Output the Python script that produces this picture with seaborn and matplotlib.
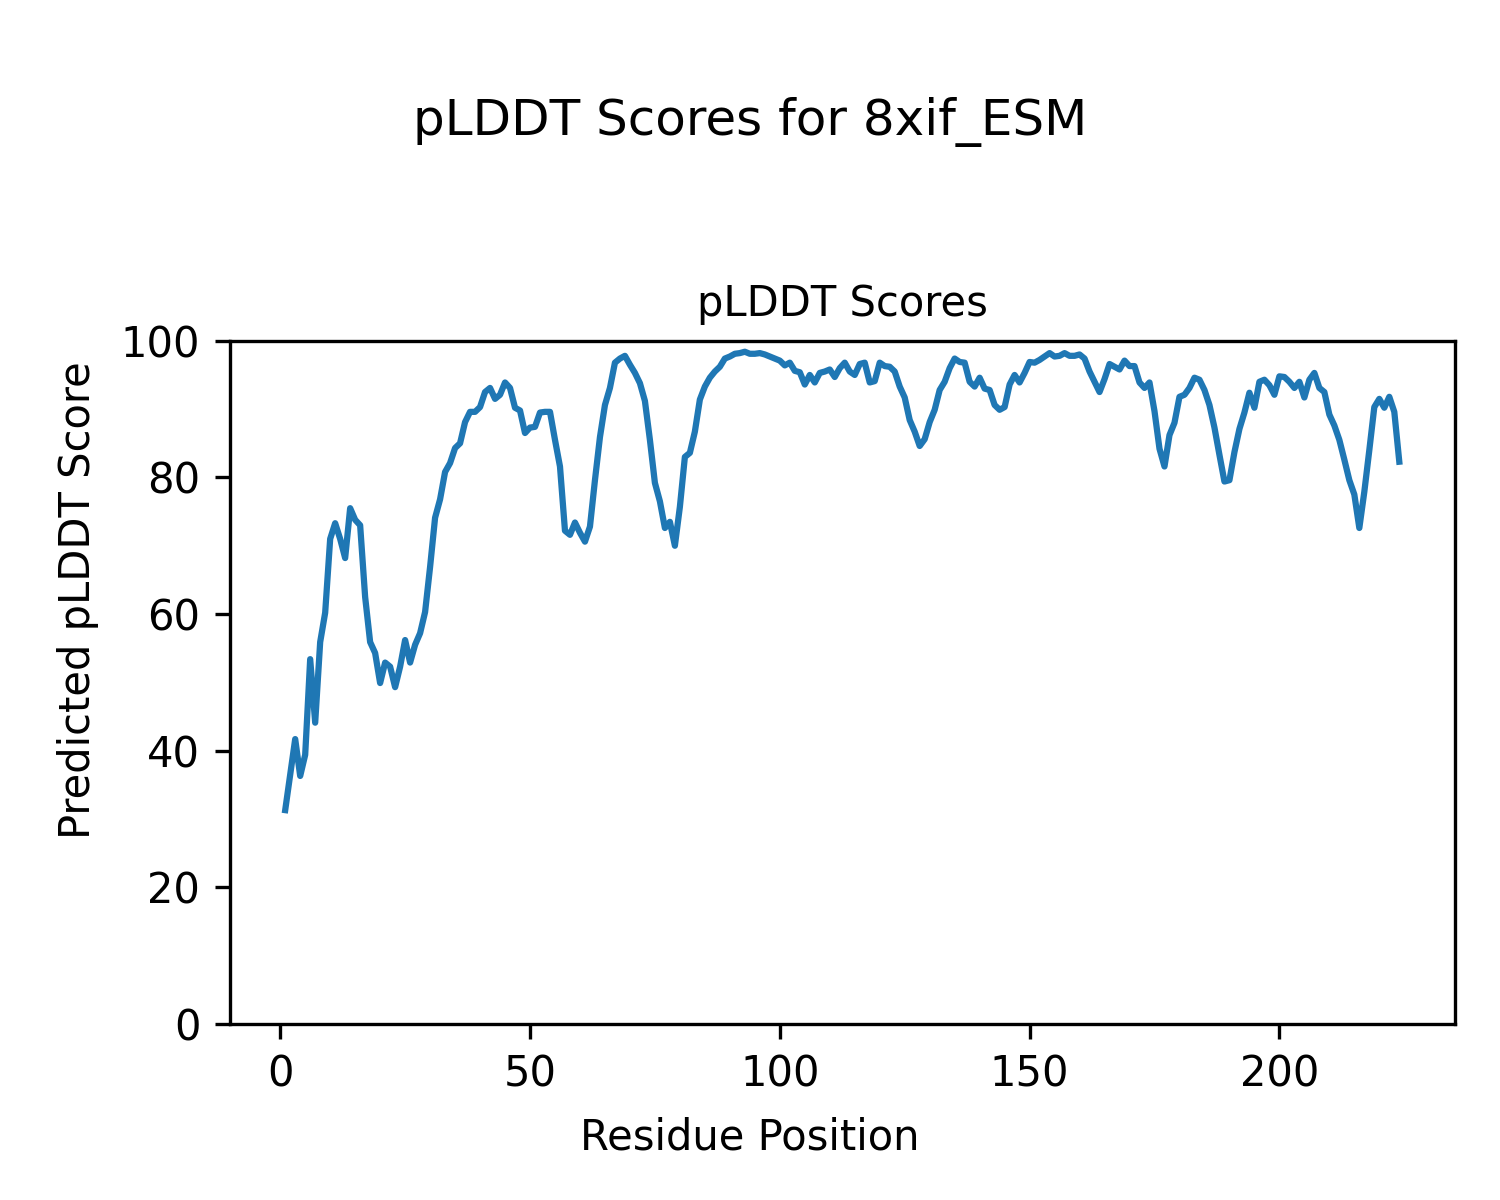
import matplotlib
matplotlib.use("Agg")
import matplotlib.pyplot as plt
import numpy as np
import pandas as pd
import seaborn as sns

# per-residue pLDDT
residues = list(range(1, 225))
plddt = [
    31.3, 36.5, 41.7, 36.3, 39.4, 53.4, 44.1, 55.9, 60.2, 71.0,
    73.3, 71.0, 68.2, 75.5, 73.8, 73.0, 62.5, 55.9, 54.3, 49.9,
    52.9, 52.3, 49.3, 52.3, 56.2, 52.9, 55.5, 57.2, 60.3, 66.9,
    74.1, 76.8, 80.8, 82.1, 84.3, 85.0, 88.1, 89.6, 89.6, 90.3,
    92.5, 93.1, 91.5, 92.1, 93.9, 93.1, 90.2, 89.8, 86.5, 87.3,
    87.4, 89.5, 89.6, 89.6, 85.5, 81.6, 72.2, 71.6, 73.4, 71.9,
    70.6, 72.8, 79.6, 85.9, 90.6, 93.1, 96.8, 97.4, 97.8, 96.5,
    95.3, 93.8, 91.2, 85.5, 79.2, 76.5, 72.6, 73.5, 70.0, 75.7,
    83.0, 83.6, 86.7, 91.4, 93.3, 94.6, 95.5, 96.2, 97.4, 97.7,
    98.1, 98.2, 98.4, 98.1, 98.1, 98.2, 98.0, 97.7, 97.4, 97.1,
    96.4, 96.8, 95.6, 95.4, 93.6, 95.0, 93.9, 95.3, 95.5, 95.8,
    94.7, 96.0, 96.8, 95.5, 95.0, 96.6, 96.8, 93.9, 94.1, 96.8,
    96.3, 96.2, 95.5, 93.3, 91.7, 88.4, 86.7, 84.6, 85.6, 88.1,
    89.9, 92.8, 94.0, 96.0, 97.4, 96.9, 96.8, 94.0, 93.3, 94.6,
    93.0, 92.8, 90.6, 89.9, 90.3, 93.6, 95.0, 93.9, 95.3, 96.9,
    96.8, 97.2, 97.7, 98.2, 97.7, 97.8, 98.2, 97.8, 97.8, 98.0,
    97.4, 95.5, 94.0, 92.5, 94.4, 96.6, 96.2, 95.8, 97.1, 96.3,
    96.3, 93.9, 93.1, 93.9, 89.7, 84.2, 81.6, 86.2, 88.0, 91.8,
    92.1, 93.1, 94.6, 94.3, 92.8, 90.6, 87.3, 83.3, 79.4, 79.6,
    83.7, 87.1, 89.5, 92.4, 90.2, 94.0, 94.3, 93.5, 92.1, 94.8,
    94.7, 94.0, 93.1, 94.0, 91.7, 94.3, 95.3, 93.1, 92.5, 89.2,
    87.6, 85.5, 82.6, 79.6, 77.5, 72.6, 77.9, 84.0, 90.3, 91.5,
    90.2, 91.8, 89.6, 82.3,
]

df = pd.DataFrame({"residue": residues, "plddt": plddt})

fig = plt.figure(figsize=(5, 4), dpi=300)
ax = fig.add_axes([0.153, 0.1467, 0.817, 0.5693])
sns.lineplot(data=df, x="residue", y="plddt", ax=ax, color="#1f77b4", linewidth=1.5)

ax.set_ylim(0, 100)
ax.set_title("pLDDT Scores", fontsize=10)
ax.set_xlabel("")
ax.set_ylabel("")

# figure-level labels, centred on the whole figure
fig.suptitle("pLDDT Scores for 8xif_ESM", fontsize=12, y=0.919)
fig.supxlabel("Residue Position", fontsize=10, x=0.5, y=0.052, va="center")
fig.supylabel("Predicted pLDDT Score", fontsize=10, x=0.052, y=0.5, ha="center")

fig.savefig("out.png", dpi=300)
